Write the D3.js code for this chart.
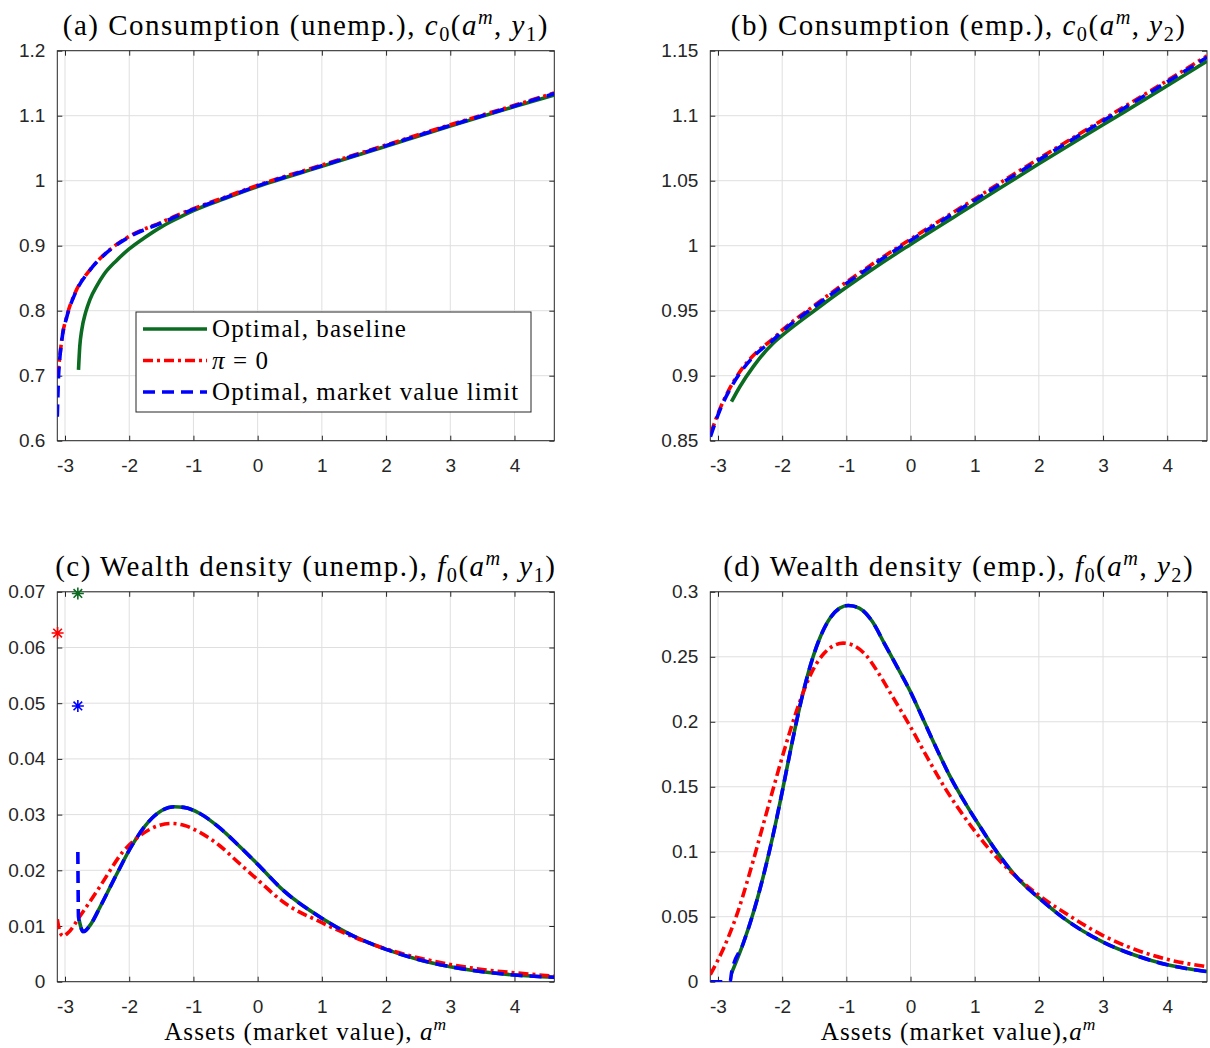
<!DOCTYPE html>
<html>
<head>
<meta charset="utf-8">
<script src="https://cdn.jsdelivr.net/npm/d3@7/dist/d3.min.js"></script>
<style>
body { margin: 0; background: #fff; }
svg { display: block; }
</style>
</head>
<body>
<script>
var width = 1210;
var height = 1048;

// ---- data ----
var xTicks = [-3, -2, -1, 0, 1, 2, 3, 4];
var xRange = [-3.12, 4.62];

var yTicksA = [0.6, 0.7, 0.8, 0.9, 1, 1.1, 1.2];
var yTicksB = [0.85, 0.9, 0.95, 1, 1.05, 1.1, 1.15];
var yTicksC = [0, 0.01, 0.02, 0.03, 0.04, 0.05, 0.06, 0.07];
var yTicksD = [0, 0.05, 0.1, 0.15, 0.2, 0.25, 0.3];

var seriesNames = ["Optimal, baseline", "\u03c0 = 0", "Optimal, market value limit"];

// (a) consumption, unemployed
var consA_base = [[-2.79, 0.709], [-2.77, 0.745], [-2.74, 0.770], [-2.68, 0.797], [-2.61, 0.8175],
  [-2.50, 0.839], [-2.40, 0.855], [-2.20, 0.877], [-2.0, 0.895], [-1.75, 0.913], [-1.5, 0.929],
  [-1.25, 0.942], [-1.0, 0.954], [-0.5, 0.973], [0, 0.991], [1, 1.022], [2, 1.053], [3, 1.084],
  [4, 1.114], [4.62, 1.132]];
var consA_pi0 = [[-3.115, 0.700], [-3.08, 0.730], [-3.05, 0.756], [-2.97, 0.792], [-2.84, 0.828],
  [-2.61, 0.863], [-2.30, 0.894], [-1.99, 0.915], [-1.5, 0.936], [-1.25, 0.947], [-1.0, 0.957],
  [-0.5, 0.975], [0, 0.993], [1, 1.024], [2, 1.055], [3, 1.086], [4, 1.116], [4.62, 1.135]];
var consA_mvl = [[-3.12, 0.637], [-3.10, 0.700], [-3.08, 0.728], [-3.05, 0.755], [-2.97, 0.791],
  [-2.84, 0.827], [-2.61, 0.8626], [-2.30, 0.8934], [-1.99, 0.914], [-1.5, 0.935], [-1.25, 0.946],
  [-1.0, 0.956], [-0.5, 0.974], [0, 0.992], [1, 1.023], [2, 1.054], [3, 1.085], [4, 1.115], [4.62, 1.134]];

// (b) consumption, employed
var consB_base = [[-2.79, 0.880], [-2.66, 0.8915], [-2.45, 0.907], [-2.14, 0.925], [-2.0, 0.931],
  [-1.5, 0.950], [-1.0, 0.968], [-0.5, 0.985], [0, 1.001], [1, 1.032], [2, 1.063], [3, 1.093],
  [4, 1.123], [4.62, 1.142]];
var consB_pi0 = [[-3.11, 0.856], [-2.97, 0.8745], [-2.82, 0.890], [-2.66, 0.903], [-2.40, 0.918],
  [-2.14, 0.9285], [-2.0, 0.935], [-1.5, 0.954], [-1.0, 0.972], [-0.5, 0.989], [0, 1.005],
  [1, 1.036], [2, 1.067], [3, 1.097], [4, 1.127], [4.62, 1.146]];
var consB_mvl = [[-3.118, 0.853], [-2.97, 0.8736], [-2.82, 0.889], [-2.66, 0.9018], [-2.40, 0.917],
  [-2.14, 0.9275], [-2.0, 0.934], [-1.5, 0.953], [-1.0, 0.971], [-0.5, 0.988], [0, 1.004],
  [1, 1.035], [2, 1.066], [3, 1.096], [4, 1.126], [4.62, 1.145]];

// (c) wealth density, unemployed
var densC_base = [[-2.78, 0.0111], [-2.745, 0.0095], [-2.715, 0.0090], [-2.6, 0.0103], [-2.45, 0.0135],
  [-2.2, 0.0192], [-1.95, 0.0246], [-1.7, 0.0287], [-1.5, 0.0307], [-1.3, 0.0314], [-1.15, 0.0313],
  [-0.9, 0.0302], [-0.6, 0.0277], [-0.3, 0.0245], [0, 0.0211], [0.4, 0.0164], [1.0, 0.0114],
  [1.44, 0.0085], [2.0, 0.0058], [2.5, 0.0040], [3.0, 0.0027], [3.5, 0.0018], [4.0, 0.0012], [4.62, 0.0008]];
var densC_pi0 = [[-3.12, 0.0112], [-3.08, 0.0090], [-3.03, 0.0082], [-2.95, 0.0088], [-2.77, 0.0117],
  [-2.45, 0.0172], [-2.1, 0.0233], [-1.8, 0.0265], [-1.55, 0.0280], [-1.35, 0.0284], [-1.15, 0.0281],
  [-0.9, 0.0268], [-0.6, 0.0245], [-0.3, 0.0214], [0, 0.0183], [0.4, 0.0143], [1.0, 0.0106],
  [1.44, 0.0083], [2.0, 0.0059], [2.5, 0.0043], [3.0, 0.0031], [3.5, 0.0022], [4.0, 0.0016], [4.62, 0.0010]];
var densC_mvl = [[-2.80, 0.0233], [-2.79, 0.0117], [-2.745, 0.0095], [-2.715, 0.0090], [-2.6, 0.0103],
  [-2.45, 0.0135], [-2.2, 0.0192], [-1.95, 0.0246], [-1.7, 0.0287], [-1.5, 0.0307], [-1.3, 0.0314],
  [-1.15, 0.0313], [-0.9, 0.0302], [-0.6, 0.0277], [-0.3, 0.0245], [0, 0.0211], [0.4, 0.0164],
  [1.0, 0.0114], [1.44, 0.0085], [2.0, 0.0058], [2.5, 0.0040], [3.0, 0.0027], [3.5, 0.0018],
  [4.0, 0.0012], [4.62, 0.0008]];
// mass points at the borrowing limit: [a, density, series]
var massC = [[-2.80, 0.0697, 0], [-3.115, 0.0626, 1], [-2.80, 0.0495, 2]];

// (d) wealth density, employed
var densD_base = [[-2.79, 0.0065], [-2.61, 0.029], [-2.45, 0.053], [-2.30, 0.080], [-2.15, 0.111],
  [-2.0, 0.146], [-1.85, 0.183], [-1.70, 0.217], [-1.55, 0.245], [-1.40, 0.266], [-1.25, 0.280],
  [-1.10, 0.2875], [-0.97, 0.2895], [-0.80, 0.2875], [-0.60, 0.2775], [-0.40, 0.2595], [-0.20, 0.2415],
  [0, 0.2230], [0.2, 0.2015], [0.4, 0.1800], [0.61, 0.1585], [0.87, 0.1360], [1.1, 0.1180],
  [1.35, 0.0995], [1.7, 0.0780], [2.0, 0.0645], [2.37, 0.0495], [3.0, 0.0305], [3.5, 0.0203],
  [4.0, 0.0130], [4.62, 0.0078]];
var densD_pi0 = [[-3.12, 0.0055], [-2.92, 0.025], [-2.71, 0.051], [-2.51, 0.083], [-2.30, 0.120],
  [-2.12, 0.152], [-1.95, 0.181], [-1.75, 0.212], [-1.55, 0.237], [-1.35, 0.2525], [-1.2, 0.2585],
  [-1.05, 0.2605], [-0.9, 0.2590], [-0.7, 0.2515], [-0.5, 0.2375], [-0.3, 0.2210], [0, 0.1960],
  [0.25, 0.1735], [0.55, 0.1480], [0.8, 0.1295], [1.0, 0.1160], [1.2, 0.1035], [1.45, 0.0900],
  [1.7, 0.0785], [2.0, 0.0665], [2.5, 0.0500], [3.0, 0.0355], [3.5, 0.0248], [4.0, 0.0172], [4.62, 0.0115]];
var densD_mvl = [[-3.12, 0], [-2.81, 0]].concat(densD_base);

var titles = [
  [["(a) Consumption (unemp.), ", "n"], ["c", "i"], ["0", "sub"], ["(", "n"], ["a", "i"], ["m", "sup"],
   [", ", "n"], ["y", "i"], ["1", "sub"], [")", "n"]],
  [["(b) Consumption (emp.), ", "n"], ["c", "i"], ["0", "sub"], ["(", "n"], ["a", "i"], ["m", "sup"],
   [", ", "n"], ["y", "i"], ["2", "sub"], [")", "n"]],
  [["(c) Wealth density (unemp.), ", "n"], ["f", "i"], ["0", "sub"], ["(", "n"], ["a", "i"], ["m", "sup"],
   [", ", "n"], ["y", "i"], ["1", "sub"], [")", "n"]],
  [["(d) Wealth density (emp.), ", "n"], ["f", "i"], ["0", "sub"], ["(", "n"], ["a", "i"], ["m", "sup"],
   [", ", "n"], ["y", "i"], ["2", "sub"], [")", "n"]]
];
var xLabels = [
  [["Assets (market value), ", "n"], ["a", "i"], ["m", "sup"]],
  [["Assets (market value),", "n"], ["a", "i"], ["m", "sup"]]
];

// ---- styles ----
var colors = ["#0b6b21", "#ff0000", "#0000ff"];
var dashes = [null, "10,4,3,4", "12,7"];
var lineW = 3.6;
var serif = "'Liberation Serif', 'DejaVu Serif', serif";
var sans = "'Liberation Sans', Arial, sans-serif";

var svg = d3.select("body")
  .append("svg")
  .attr("width", width)
  .attr("height", height);

function mathText(sel, parts, size, spacing) {
  var t = sel.append("text")
    .attr("font-family", serif)
    .attr("font-size", size)
    .attr("letter-spacing", spacing)
    .attr("fill", "#000");
  var shift = 0;
  parts.forEach(function(p) {
    var sp = t.append("tspan").text(p[0]);
    var target = 0;
    if (p[1] == "sub") target = size * 0.22;
    if (p[1] == "sup") target = -size * 0.38;
    if (target != shift) { sp.attr("dy", target - shift); shift = target; }
    if (p[1] == "sub" || p[1] == "sup") sp.attr("font-size", size * 0.7);
    if (p[1] == "i" || p[1] == "sup") sp.attr("font-style", "italic");
  });
  return t;
}

var panelId = 0;
function drawPanel(opt) {
  panelId++;
  var x = d3.scaleLinear().domain(xRange).range([opt.left, opt.right]);
  var y = d3.scaleLinear().domain([opt.yTicks[0], opt.yTicks[opt.yTicks.length - 1]])
    .range([opt.bottom, opt.top]);
  var g = svg.append("g");
  var w = opt.right - opt.left, h = opt.bottom - opt.top;

  // grid
  g.append("g").selectAll("line").data(xTicks).enter().append("line")
    .attr("x1", function(d) { return x(d); }).attr("x2", function(d) { return x(d); })
    .attr("y1", opt.top).attr("y2", opt.bottom)
    .attr("stroke", "#dfdfdf").attr("stroke-width", 1);
  g.append("g").selectAll("line").data(opt.yTicks).enter().append("line")
    .attr("y1", function(d) { return y(d); }).attr("y2", function(d) { return y(d); })
    .attr("x1", opt.left).attr("x2", opt.right)
    .attr("stroke", "#dfdfdf").attr("stroke-width", 1);

  // axes, MATLAB box style: inward ticks on all four sides
  var fmt = d3.format("~g");
  var ax = g.append("g").attr("transform", "translate(0," + opt.bottom + ")")
    .call(d3.axisBottom(x).tickValues(xTicks).tickSizeInner(-5).tickSizeOuter(0)
      .tickPadding(18).tickFormat(function(d) { return d; }));
  var ay = g.append("g").attr("transform", "translate(" + opt.left + ",0)")
    .call(d3.axisLeft(y).tickValues(opt.yTicks).tickSizeInner(-5).tickSizeOuter(0)
      .tickPadding(12).tickFormat(fmt));
  var axt = g.append("g").attr("transform", "translate(0," + opt.top + ")")
    .call(d3.axisTop(x).tickValues(xTicks).tickSizeInner(-5).tickSizeOuter(0).tickFormat(""));
  var ayr = g.append("g").attr("transform", "translate(" + opt.right + ",0)")
    .call(d3.axisRight(y).tickValues(opt.yTicks).tickSizeInner(-5).tickSizeOuter(0).tickFormat(""));
  [ax, ay, axt, ayr].forEach(function(a) {
    a.select(".domain").remove();
    a.selectAll("line").attr("stroke", "#262626");
    a.selectAll("text").attr("fill", "#262626").attr("font-family", sans).attr("font-size", 19);
  });
  g.append("rect")
    .attr("x", opt.left).attr("y", opt.top)
    .attr("width", w).attr("height", h)
    .attr("fill", "none").attr("stroke", "#262626").attr("stroke-width", 1);

  // lines
  svg.append("clipPath").attr("id", "clip" + panelId)
    .append("rect").attr("x", opt.left).attr("y", opt.top).attr("width", w).attr("height", h);
  var line = d3.line()
    .x(function(d) { return x(d[0]); })
    .y(function(d) { return y(d[1]); })
    .curve(d3.curveMonotoneX);
  var lg = g.append("g").attr("clip-path", "url(#clip" + panelId + ")");
  opt.series.forEach(function(s, i) {
    lg.append("path")
      .datum(s)
      .attr("d", line)
      .attr("fill", "none")
      .attr("stroke", colors[i])
      .attr("stroke-width", lineW)
      .attr("stroke-dasharray", dashes[i]);
  });

  if (opt.mass) {
    var star = "M-6,0H6M0,-6V6M-4.3,-4.3L4.3,4.3M-4.3,4.3L4.3,-4.3";
    g.append("g").selectAll("path").data(opt.mass).enter().append("path")
      .attr("transform", function(d) { return "translate(" + x(d[0]) + "," + y(d[1]) + ")"; })
      .attr("d", star)
      .attr("fill", "none")
      .attr("stroke", function(d) { return colors[d[2]]; })
      .attr("stroke-width", 1.6);
  }

  mathText(g, opt.title, 29, 1.5)
    .attr("x", (opt.left + opt.right) / 2)
    .attr("y", opt.top - 16)
    .attr("text-anchor", "middle");

  if (opt.xLabel) {
    mathText(g, opt.xLabel, 25, 1.1)
      .attr("x", (opt.left + opt.right) / 2)
      .attr("y", opt.bottom + 58)
      .attr("text-anchor", "middle");
  }

  if (opt.legend) {
    var L = opt.legend;
    var lgd = g.append("g");
    lgd.append("rect")
      .attr("x", L.x).attr("y", L.y).attr("width", L.w).attr("height", L.h)
      .attr("fill", "#fff").attr("stroke", "#262626").attr("stroke-width", 1);
    seriesNames.forEach(function(name, i) {
      var cy = L.y + 17 + i * 31.5;
      lgd.append("line")
        .attr("x1", L.x + 7).attr("x2", L.x + 71)
        .attr("y1", cy).attr("y2", cy)
        .attr("stroke", colors[i]).attr("stroke-width", lineW)
        .attr("stroke-dasharray", dashes[i]);
      var tx = lgd.append("text")
        .attr("x", L.x + 76).attr("y", cy + 8)
        .attr("font-family", serif).attr("font-size", 25)
        .attr("letter-spacing", 1.1)
        .attr("fill", "#000");
      if (i == 1) {
        tx.append("tspan").attr("font-style", "italic").text("\u03c0");
        tx.append("tspan").text(" = 0");
      } else {
        tx.text(name);
      }
    });
  }
}

drawPanel({ left: 57.3, right: 554.3, top: 50.7, bottom: 440.7, yTicks: yTicksA,
  series: [consA_base, consA_pi0, consA_mvl], title: titles[0],
  legend: { x: 136, y: 312, w: 395, h: 100 } });
drawPanel({ left: 710.3, right: 1207, top: 50.7, bottom: 440.7, yTicks: yTicksB,
  series: [consB_base, consB_pi0, consB_mvl], title: titles[1] });
drawPanel({ left: 57.3, right: 554.3, top: 591.8, bottom: 981.7, yTicks: yTicksC,
  series: [densC_base, densC_pi0, densC_mvl], title: titles[2], mass: massC, xLabel: xLabels[0] });
drawPanel({ left: 710.3, right: 1207, top: 591.8, bottom: 981.7, yTicks: yTicksD,
  series: [densD_base, densD_pi0, densD_mvl], title: titles[3], xLabel: xLabels[1] });
</script>
</body>
</html>
